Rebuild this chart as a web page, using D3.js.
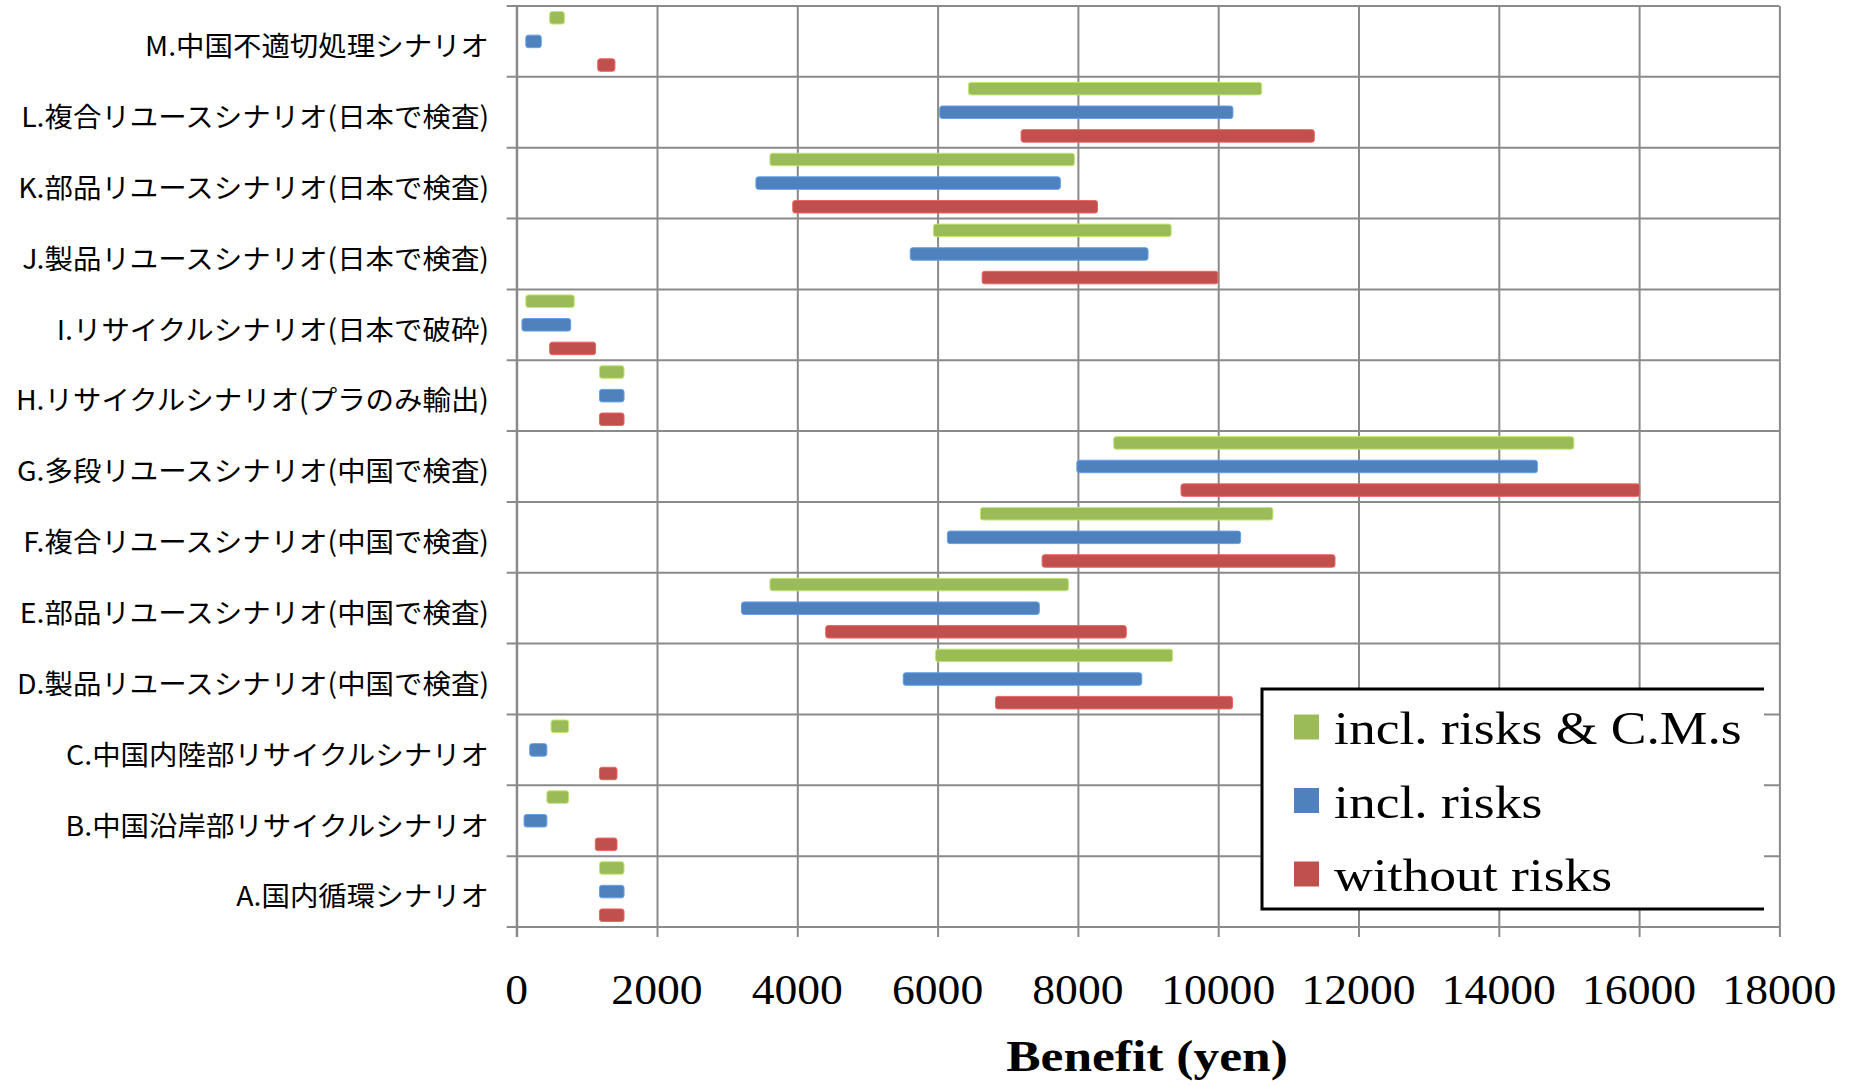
<!DOCTYPE html>
<html><head><meta charset="utf-8">
<script src="https://cdn.jsdelivr.net/npm/d3@7"></script>
<style>html,body{margin:0;padding:0;background:#fff;}</style>
</head><body>
<script>
// ---- data ----
const categories = [
  "M.中国不適切処理シナリオ",
  "L.複合リユースシナリオ(日本で検査)",
  "K.部品リユースシナリオ(日本で検査)",
  "J.製品リユースシナリオ(日本で検査)",
  "I.リサイクルシナリオ(日本で破砕)",
  "H.リサイクルシナリオ(プラのみ輸出)",
  "G.多段リユースシナリオ(中国で検査)",
  "F.複合リユースシナリオ(中国で検査)",
  "E.部品リユースシナリオ(中国で検査)",
  "D.製品リユースシナリオ(中国で検査)",
  "C.中国内陸部リサイクルシナリオ",
  "B.中国沿岸部リサイクルシナリオ",
  "A.国内循環シナリオ"
];
const seriesNames = ["incl. risks & C.M.s", "incl. risks", "without risks"];
const cmLow     = [470, 6440, 3610, 5940, 130, 1180, 8510, 6610, 3610, 5970, 490, 430, 1180];
const cmHigh    = [680, 10620, 7950, 9330, 820, 1530, 15070, 10780, 7865, 9350, 740, 740, 1530];
const riskLow   = [130, 6030, 3410, 5610, 75, 1180, 7985, 6140, 3205, 5510, 185, 105, 1180];
const riskHigh  = [350, 10210, 7750, 9000, 770, 1530, 14550, 10320, 7450, 8910, 430, 430, 1530];
const noRiskLow = [1155, 7190, 3935, 6635, 470, 1180, 9470, 7490, 4405, 6825, 1180, 1120, 1180];
const noRiskHigh= [1400, 11370, 8280, 9995, 1125, 1530, 16010, 11665, 8690, 10205, 1430, 1430, 1530];
const xTicks = [0, 2000, 4000, 6000, 8000, 10000, 12000, 14000, 16000, 18000];
const xTitle = "Benefit (yen)";

// ---- layout ----
const W = 1856, H = 1085;
const pLeft = 516.7, pRight = 1779.4, pTop = 6, pBottom = 927;
const colors = ["#9BBB59", "#4F81BD", "#C0504D"];
const gridColor = "#8a8a8a";
const SX = 1.035;

const svg = d3.select("body").append("svg").attr("width", W).attr("height", H)
  .style("display", "block").style("background", "#fff");

const x = d3.scaleLinear().domain([0, 18000]).range([pLeft, pRight]);
const y = d3.scaleBand().domain(categories).range([pTop, pBottom]).padding(0);
const ys = d3.scaleBand().domain(seriesNames).range([0, y.bandwidth()])
  .paddingInner(0.47).paddingOuter(0.235);

// vertical grid + bottom ticks
const gx = svg.append("g").attr("transform", `translate(0,${pBottom})`)
  .call(d3.axisBottom(x).tickValues(xTicks).tickSizeInner(-(pBottom - pTop)).tickSizeOuter(0).tickFormat(""));
gx.select(".domain").remove();
gx.selectAll(".tick line").attr("stroke", gridColor).attr("stroke-width", 2).attr("y2", -(pBottom - pTop)).attr("y1", 10);

// horizontal boundaries (grid + left ticks)
const bounds = categories.map(c => y(c)).concat([y(categories[categories.length - 1]) + y.bandwidth()]);
svg.append("g").selectAll("line").data(bounds).join("line")
  .attr("x1", pLeft - 10).attr("x2", pRight).attr("y1", d => d).attr("y2", d => d)
  .attr("stroke", gridColor).attr("stroke-width", 2);
svg.append("line").attr("x1", pLeft).attr("x2", pLeft).attr("y1", pTop).attr("y2", pBottom + 10)
  .attr("stroke", gridColor).attr("stroke-width", 2);

// bars
const seriesData = [
  {name: seriesNames[0], lo: cmLow, hi: cmHigh, color: colors[0]},
  {name: seriesNames[1], lo: riskLow, hi: riskHigh, color: colors[1]},
  {name: seriesNames[2], lo: noRiskLow, hi: noRiskHigh, color: colors[2]}
];
seriesData.forEach(s => {
  svg.append("g").selectAll("rect").data(categories).join("rect")
    .attr("x", (c, i) => x(s.lo[i]))
    .attr("width", (c, i) => x(s.hi[i]) - x(s.lo[i]))
    .attr("y", c => y(c) + ys(s.name))
    .attr("height", ys.bandwidth())
    .attr("rx", 2.5).attr("ry", 2.5)
    .attr("fill", s.color)
    .attr("stroke", d3.color(s.color).brighter(0.6)).attr("stroke-width", 1);
});

// category labels
svg.append("g").selectAll("g").data(categories).join("g")
  .attr("transform", c => `translate(489,${y(c) + y.bandwidth() / 2 + 3}) scale(${SX},1)`)
  .append("text")
  .attr("text-anchor", "end").attr("dominant-baseline", "central")
  .attr("font-family", "'Noto Sans CJK JP', 'Noto Sans', sans-serif")
  .attr("font-size", 27.5).attr("fill", "#000")
  .text(c => c);

// x tick labels
svg.append("g").selectAll("g").data(xTicks).join("g")
  .attr("transform", d => `translate(${x(d)},1004) scale(1.1,1)`)
  .append("text").attr("text-anchor", "middle")
  .attr("font-family", "'Liberation Serif', 'Times New Roman', serif")
  .attr("font-size", 41.5).attr("fill", "#000")
  .text(d => d);

// x title
svg.append("g").attr("transform", `translate(1147,1070.7) scale(1.17,1)`)
  .append("text").attr("text-anchor", "middle")
  .attr("font-family", "'Liberation Serif', 'Times New Roman', serif")
  .attr("font-weight", "bold").attr("font-size", 44).attr("fill", "#000")
  .text(xTitle);

// legend
const lg = svg.append("g");
const lx0 = 1262, lx1 = 1764, ly0 = 689, ly1 = 909;
lg.append("rect").attr("x", lx0).attr("y", ly0).attr("width", lx1 - lx0).attr("height", ly1 - ly0).attr("fill", "#fff");
lg.append("path").attr("d", `M${lx1},${ly0}H${lx0}V${ly1}H${lx1}`)
  .attr("fill", "none").attr("stroke", "#000").attr("stroke-width", 3);
const legendY = d3.scalePoint().domain(seriesNames).range([727, 874]);
const items = lg.selectAll("g.item").data(seriesData).join("g").attr("class", "item")
  .attr("transform", d => `translate(1294,${legendY(d.name)})`);
items.append("rect").attr("x", 0).attr("y", -12.5).attr("width", 25).attr("height", 25).attr("fill", d => d.color);
items.append("g").attr("transform", `translate(40,17) scale(1.14,1)`)
  .append("text")
  .attr("font-family", "'Liberation Serif', 'Times New Roman', serif")
  .attr("font-size", 47).attr("fill", "#000")
  .text(d => d.name);
</script>
</body></html>
